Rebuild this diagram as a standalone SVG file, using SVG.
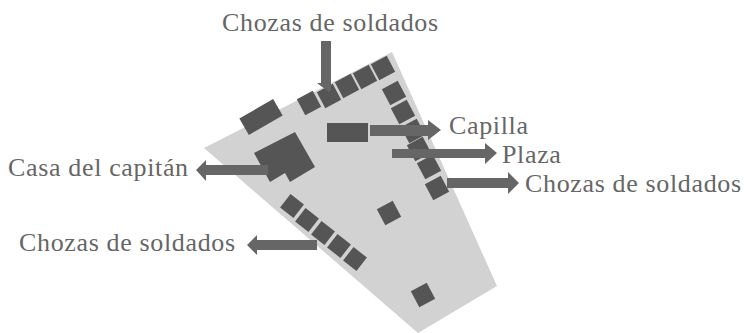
<svg xmlns="http://www.w3.org/2000/svg" width="744" height="333" viewBox="0 0 744 333">
<style>
.b{fill:#555}
.a{fill:#666}
text{font-family:"Liberation Serif",serif;font-size:26px;letter-spacing:.65px;fill:#666}
</style>
<rect width="744" height="333" fill="#fff"/>
<polygon id="site" points="392,52 204,148 418,333 497,286" fill="#d2d2d2"/>
<g id="chozas-norte" class="b">
<rect x="-9" y="-9" width="18" height="18" transform="translate(309,103) rotate(-28)"/>
<rect x="-9" y="-9" width="18" height="18" transform="translate(329,96) rotate(-28)"/>
<rect x="-9" y="-9" width="18" height="18" transform="translate(347,86) rotate(-28)"/>
<rect x="-9" y="-9" width="18" height="18" transform="translate(365,77) rotate(-28)"/>
<rect x="-9" y="-9" width="18" height="18" transform="translate(383,68) rotate(-28)"/>
</g>
<g id="chozas-este" class="b">
<rect x="-9" y="-9" width="18" height="18" transform="translate(394,93) rotate(-28)"/>
<rect x="-9" y="-9" width="18" height="18" transform="translate(403,112) rotate(-28)"/>
<rect x="-9" y="-9" width="18" height="18" transform="translate(413,131) rotate(-28)"/>
<rect x="-9" y="-9" width="18" height="18" transform="translate(419,149) rotate(-28)"/>
<rect x="-9" y="-9" width="18" height="18" transform="translate(429,167) rotate(-28)"/>
<rect x="-9" y="-9" width="18" height="18" transform="translate(437,188) rotate(-28)"/>
</g>
<g id="chozas-sur" class="b">
<rect x="-8.500" y="-8.500" width="17" height="17" transform="translate(292,206) rotate(-52)"/>
<rect x="-8.500" y="-8.500" width="17" height="17" transform="translate(307,220) rotate(-52)"/>
<rect x="-8.500" y="-8.500" width="17" height="17" transform="translate(323,233) rotate(-52)"/>
<rect x="-8.500" y="-8.500" width="17" height="17" transform="translate(339,246) rotate(-52)"/>
<rect x="-8.500" y="-8.500" width="17" height="17" transform="translate(355,259) rotate(-52)"/>
</g>
<g id="edificio-noroeste" class="b"><rect x="-19.500" y="-9.500" width="39" height="19" transform="translate(261,117) rotate(-30)"/></g>
<g id="capilla" class="b"><rect x="327" y="123" width="41" height="19"/></g>
<g id="casa" class="b"><polygon points="254,153 295,132 315,167 290,182 285,173 270,182"/></g>
<g id="cuadro-1" class="b"><rect x="-9" y="-9" width="18" height="18" transform="translate(389,213) rotate(-28)"/></g>
<g id="cuadro-2" class="b"><rect x="-9" y="-9" width="18" height="18" transform="translate(423,295) rotate(-28)"/></g>
<g id="connectors" class="a">
<polygon points="321,41 331,41 331,90 329,92 317,83 321,83"/>
<polygon points="370,125 428,125 428,120 441,130 428,140 428,136 370,136"/>
<polygon points="392,149 485,149 485,143 497,153 485,164 485,158 392,158"/>
<polygon points="447,178 508,178 508,172 519,183 508,194 508,188 447,188"/>
<polygon points="268,165 206,165 206,160 196,170 206,181 206,175 268,175"/>
<polygon points="317,240 257,240 257,235 247,245 257,255 257,250 317,250"/>
</g>
<text id="t1" x="222" y="31">Chozas de soldados</text>
<text id="t2" x="449" y="134">Capilla</text>
<text id="t3" x="502" y="163">Plaza</text>
<text id="t4" x="525" y="192">Chozas de soldados</text>
<text id="t5" x="8" y="176">Casa del capitán</text>
<text id="t6" x="19" y="251">Chozas de soldados</text>
</svg>
